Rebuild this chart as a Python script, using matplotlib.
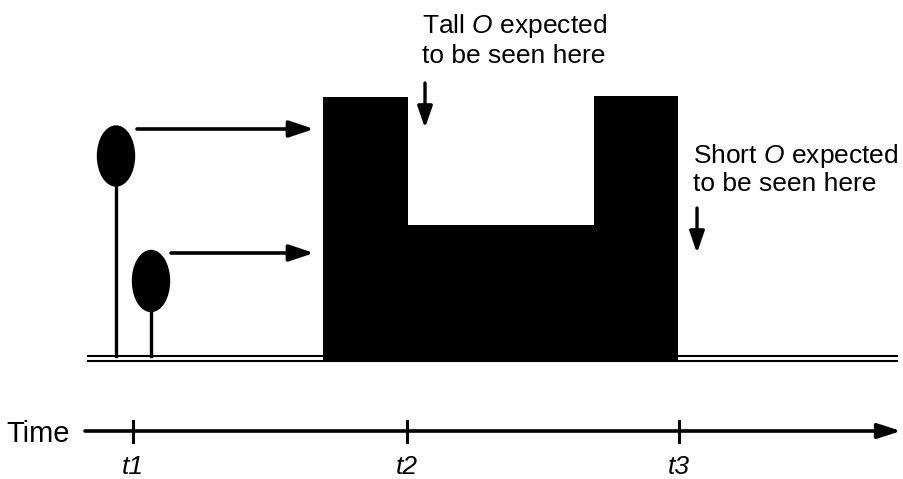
import matplotlib.pyplot as plt
from matplotlib.patches import Ellipse

plt.rcParams['font.family'] = ['Liberation Sans', 'DejaVu Sans']
plt.rcParams['mathtext.fontset'] = 'custom'
plt.rcParams['mathtext.rm'] = 'Liberation Sans'
plt.rcParams['mathtext.it'] = 'Liberation Sans:italic'

# everything is in picture pixels (y grows downwards)
ground = [356, 361]
ground_x = (87, 898)

# the two O's: stem x, top of stem, ellipse centre y, ellipse height
o_x = [116, 151]
o_top = [186, 312]
o_cy = [156, 281]
o_h = [60, 61]
o_w = 37

# arrows from the O's to the response
arrow_from = [137, 171]
arrow_y = [129, 253]
arrow_to = 314

# response block: edges and top of each segment
bar_edges = [323, 408, 594, 678]
bar_tops = [97, 225, 96]
bar_bottom = 361

# time axis
time_y = 431
time_x = (85, 901)
tick_times = [133, 407, 679]
tick_labels = ['t1', 't2', 't3']

# notes
note_lines = [["Tall $\\mathit{O}$ expected", "to be seen here"],
              ["Short $\\mathit{O}$ expected", "to be seen here"]]
note_x = [422, 693]
note_base = [[33, 63], [163, 191]]
down_x = [425, 697]
down_y = [(83, 128), (208, 253)]

fig = plt.figure(figsize=(9.04, 4.79), dpi=100)
ax = fig.add_axes([0, 0, 1, 1])
ax.set_xlim(0, 904)
ax.set_ylim(479, 0)
ax.axis('off')

for g in ground:
    ax.plot(ground_x, [g, g], color='black', lw=1.5, solid_capstyle='butt')

for x, top, cy, h in zip(o_x, o_top, o_cy, o_h):
    ax.plot([x, x], [ground[0], top], color='black', lw=2.4)
    ax.add_patch(Ellipse((x, cy), o_w, h, color='black'))

for x0, y in zip(arrow_from, arrow_y):
    ax.annotate('', xy=(arrow_to, y), xytext=(x0, y),
                arrowprops=dict(arrowstyle='-|>,head_length=1.5,head_width=0.5',
                                color='black', lw=2.6, shrinkA=0, shrinkB=0))

# stepped block
xs = []
ys = []
for i in range(len(bar_tops)):
    xs += [bar_edges[i], bar_edges[i + 1]]
    ys += [bar_tops[i], bar_tops[i]]
ax.fill_between(xs, ys, bar_bottom, color='black', lw=0)

# time axis
ax.annotate('', xy=(time_x[1], time_y), xytext=(time_x[0], time_y),
            arrowprops=dict(arrowstyle='-|>,head_length=1.4,head_width=0.45',
                            color='black', lw=2.6, shrinkA=0, shrinkB=0))
ax.text(6, 442, 'Time', fontsize=21, va='baseline', ha='left')
for t, lab in zip(tick_times, tick_labels):
    ax.plot([t, t], [time_y - 10, time_y + 11], color='black', lw=2.2)
    ax.text(t, 474, lab, fontsize=19, style='italic', ha='center', va='baseline')

for lines, x, bases, dx, (dy0, dy1) in zip(note_lines, note_x, note_base, down_x, down_y):
    for s, b in zip(lines, bases):
        ax.text(x, b, s, fontsize=19, ha='left', va='baseline')
    ax.annotate('', xy=(dx, dy1), xytext=(dx, dy0),
                arrowprops=dict(arrowstyle='-|>,head_length=1.3,head_width=0.45',
                                color='black', lw=2.4, shrinkA=0, shrinkB=0))

fig.savefig('out.png', dpi=100)
